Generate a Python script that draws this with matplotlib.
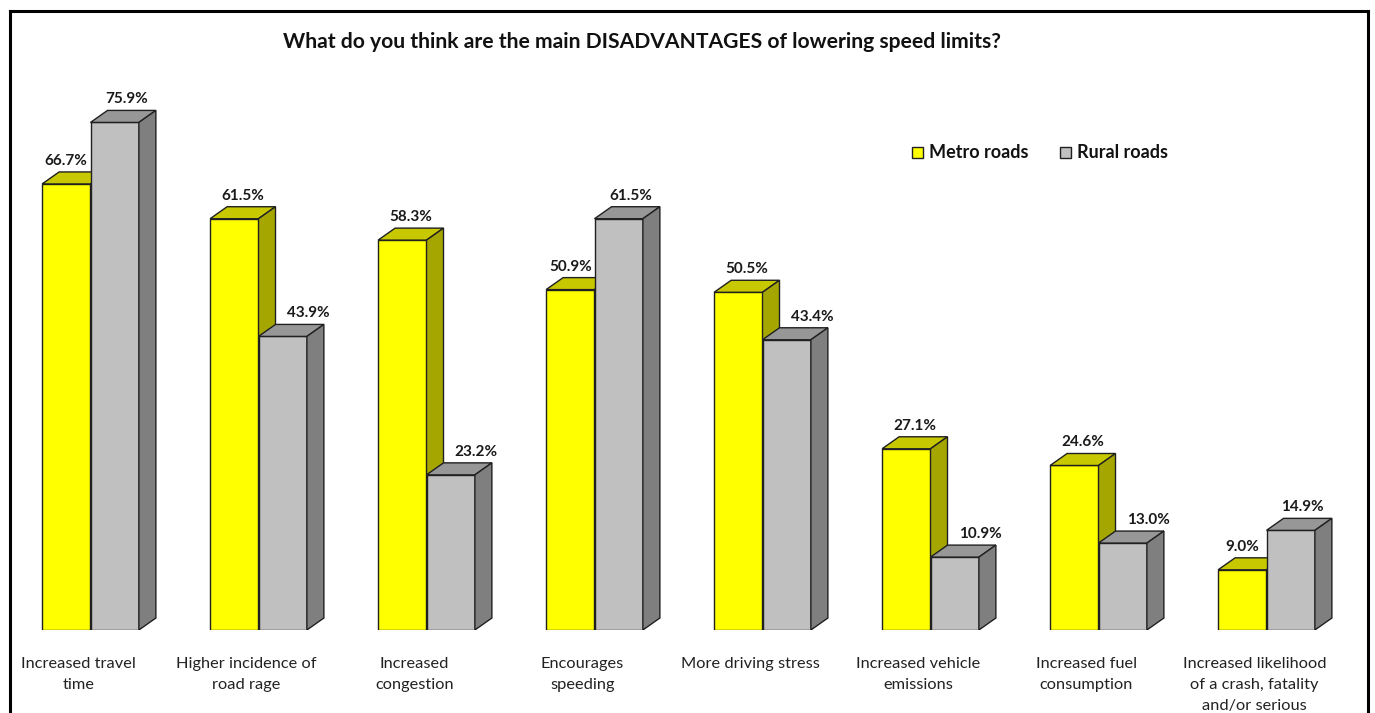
import matplotlib.pyplot as plt
from matplotlib.patches import Polygon, Rectangle
from matplotlib.lines import Line2D

categories = ['Increased travel\ntime', 'Higher incidence of\nroad rage', 'Increased\ncongestion',
              'Encourages\nspeeding', 'More driving stress', 'Increased vehicle\nemissions',
              'Increased fuel\nconsumption', 'Increased likelihood\nof a crash, fatality\nand/or serious']
metro = [66.7, 61.5, 58.3, 50.9, 50.5, 27.1, 24.6, 9.0]
rural = [75.9, 43.9, 23.2, 61.5, 43.4, 10.9, 13.0, 14.9]
series = ['Metro roads', 'Rural roads']

# front / top / side shades for each series
shades = {
    'Metro roads': ('#ffff00', '#c8c800', '#a6a600'),
    'Rural roads': ('#c0c0c0', '#979797', '#7f7f7f'),
}

plt.rcParams['font.family'] = ['Lato', 'DejaVu Sans']

fig = plt.figure(figsize=(13.75, 7.13), dpi=100)
ax = fig.add_axes([0, 83 / 713, 1, 535 / 713])
ax.set_xlim(-90.5 / 168, (1375 - 90.5) / 168)
ax.set_ylim(0, 80)
ax.axis('off')

w = 0.288          # bar width in category units
dx = 17 / 168      # depth offset, x
dy = 12 / 6.69     # depth offset, y (percent)


def box(x0, h, name, shift):
    front, top, side = shades[name]
    kw = dict(edgecolor='#202020', linewidth=1.0, joinstyle='miter')
    ax.add_patch(Rectangle((x0, 0), w, h, facecolor=front, **kw))
    ax.add_patch(Polygon([(x0, h), (x0 + dx, h + dy), (x0 + w + dx, h + dy), (x0 + w, h)],
                         closed=True, facecolor=top, **kw))
    ax.add_patch(Polygon([(x0 + w, 0), (x0 + w + dx, dy), (x0 + w + dx, h + dy), (x0 + w, h)],
                         closed=True, facecolor=side, **kw))
    ax.text(x0 + w / 2 + shift, h + dy + 0.6, f'{h:.1f}%', ha='center', va='bottom',
            fontsize=11, fontweight='bold', color='#1a1a1a')


for i, (m, r) in enumerate(zip(metro, rural)):
    box(i - w, m, series[0], 0 if r > m else dx / 2)
    box(i, r, series[1], 1.5 * dx if m > r else 0.7 * dx)
    fig.text((90.5 + 168 * i - 12) / 1375, 1 - 657 / 713, categories[i], ha='center', va='top',
             fontsize=11.8, color='#222222', linespacing=1.62)

fig.text(642 / 1375, 1 - 42 / 713,
         'What do you think are the main DISADVANTAGES of lowering speed limits?',
         ha='center', va='center', fontsize=15.2, fontweight='bold', color='#111111')

# legend
for k, name in enumerate(series):
    lx = [912, 1060][k]
    fig.patches.append(Rectangle((lx / 1375, 1 - 158 / 713), 11 / 1375, 11 / 713,
                                 transform=fig.transFigure, facecolor=shades[name][0],
                                 edgecolor='#202020', linewidth=1.0))
    fig.text((lx + 17) / 1375, 1 - 152 / 713, name, ha='left', va='center',
             fontsize=13, fontweight='bold', color='#111111')

# outer frame (bottom edge runs off the canvas)
for xs, ys in [((10, 10), (713, 11)), ((10, 1368), (11, 11)), ((1368, 1368), (11, 713))]:
    fig.add_artist(Line2D([x / 1375 for x in xs], [1 - y / 713 for y in ys],
                          transform=fig.transFigure, color='black', linewidth=2.2))

fig.savefig('out.png', dpi=100)
